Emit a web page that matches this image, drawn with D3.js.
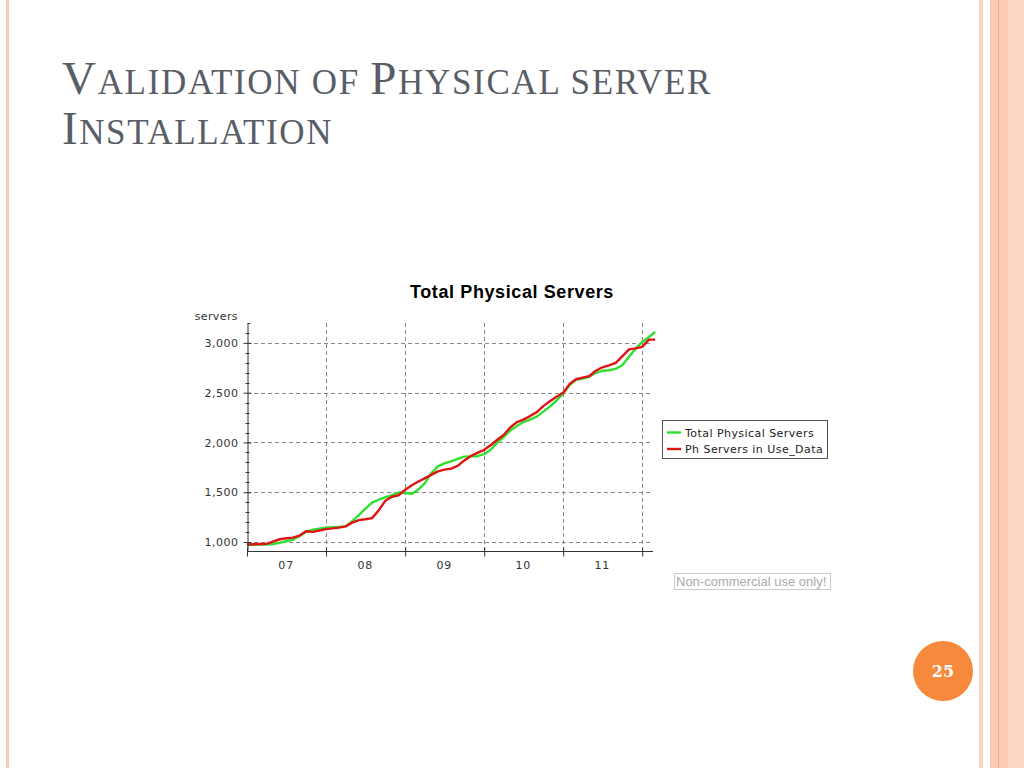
<!DOCTYPE html>
<html>
<head>
<meta charset="utf-8">
<script src="https://cdn.jsdelivr.net/npm/d3@7"></script>
<style>
  body { margin: 0; background: #fff; }
  svg { display: block; }
</style>
</head>
<body>
<svg id="slide" width="1024" height="768"></svg>
<script>
// monthly values, Jan 2007 onward
var totalServers = [
  970, 972, 974, 976, 980, 992, 1008, 1024, 1060, 1100, 1125, 1135,
  1145, 1148, 1152, 1157, 1210, 1270, 1335, 1395, 1425, 1450, 1470, 1498,
  1492, 1485, 1525, 1590, 1690, 1760, 1790, 1810, 1835, 1858, 1860, 1862,
  1882, 1930, 1995, 2055, 2120, 2165, 2205, 2230, 2260, 2310, 2360, 2420,
  2493, 2580, 2630, 2642, 2660, 2700, 2720, 2725, 2740, 2775, 2860, 2940,
  3010, 3060, 3110
];
var inUseServers = [
  975, 978, 980, 982, 1005, 1028, 1038, 1044, 1065, 1108, 1102, 1116,
  1130, 1137, 1145, 1157, 1195, 1220, 1229, 1240, 1320, 1414, 1455, 1470,
  1525, 1570, 1605, 1640, 1675, 1710, 1727, 1737, 1765, 1820, 1865, 1895,
  1926, 1975, 2025, 2075, 2150, 2205, 2230, 2265, 2305, 2365, 2415, 2460,
  2500, 2590, 2635, 2652, 2665, 2720, 2755, 2775, 2800, 2865, 2935, 2945,
  2960, 3033, 3033
];
var seriesNames = ['Total Physical Servers', 'Ph Servers in Use_Data'];
var seriesColors = ['#2fe02f', '#e01414'];
var years = [2007, 2008, 2009, 2010, 2011, 2012];
var yearLabels = ['07', '08', '09', '10', '11'];
var yTicks = [1000, 1500, 2000, 2500, 3000];

(function(){
var svg = d3.select('#slide');

// ---- slide frame ----
svg.append('rect').attr('x', 6).attr('y', 0).attr('width', 3).attr('height', 768).attr('fill', '#f9ccb6');
svg.append('rect').attr('x', 979).attr('y', 0).attr('width', 4).attr('height', 768).attr('fill', '#fbd2bf');
svg.append('rect').attr('x', 990).attr('y', 0).attr('width', 34).attr('height', 768).attr('fill', '#fbcbb5');
svg.append('rect').attr('x', 1008).attr('y', 0).attr('width', 16).attr('height', 768).attr('fill', '#fcd5c3');
svg.append('line').attr('x1', 998.5).attr('x2', 998.5).attr('y1', 0).attr('y2', 768)
  .attr('stroke', '#f3a77c').attr('stroke-width', 1);

// slide title in small caps
var titleLines = [
  {y: 94, parts: [['V', 1], ['ALIDATION OF ', 0], ['P', 1], ['HYSICAL SERVER', 0]], width: 650},
  {y: 144, parts: [['I', 1], ['NSTALLATION', 0]], width: 271}
];
titleLines.forEach(function(line){
  var t = svg.append('text')
    .attr('x', 62).attr('y', line.y)
    .attr('fill', '#585d66')
    .style('font-family', '"Liberation Serif", serif');
  line.parts.forEach(function(p){
    t.append('tspan').text(p[0]).style('font-size', p[1] ? '47px' : '35px');
  });
  var len = t.node().getComputedTextLength();
  var chars = line.parts.map(function(p){ return p[0]; }).join('').length;
  t.style('letter-spacing', ((line.width - len) / chars) + 'px');
});

// page number
svg.append('circle').attr('cx', 943).attr('cy', 671).attr('r', 30).attr('fill', '#f6893b');
svg.append('text').attr('x', 943).attr('y', 677).attr('text-anchor', 'middle')
  .attr('fill', '#fff')
  .style('font-family', '"DejaVu Serif", serif').style('font-weight', 'bold').style('font-size', '16px')
  .text('25');

// ---- chart ----
var pLeft = 247, pRight = 653, pTop = 323, pBottom = 551;
var dates = totalServers.map(function(d, i){ return new Date(2007, i, 1); });

var x = d3.scaleTime()
  .domain([new Date(2007, 0, 1), new Date(2012, 1, 20)])
  .range([pLeft, pRight]);
var y = d3.scaleLinear()
  .domain([910, 3200])
  .range([pBottom, pTop]);

var chart = svg.append('g').style('font-family', '"DejaVu Sans", sans-serif');

chart.append('text')
  .attr('x', 512).attr('y', 298).attr('text-anchor', 'middle')
  .style('font-family', '"Liberation Sans", sans-serif')
  .style('font-weight', 'bold').style('font-size', '18px')
  .style('letter-spacing', '0.6px')
  .attr('fill', '#000')
  .text('Total Physical Servers');

// grid
var yearDates = years.map(function(yr){ return new Date(yr, 0, 1); });
chart.append('g').selectAll('line')
  .data(yTicks)
  .enter().append('line')
  .attr('x1', pLeft).attr('x2', pRight)
  .attr('y1', function(d){ return Math.round(y(d)) + 0.5; })
  .attr('y2', function(d){ return Math.round(y(d)) + 0.5; })
  .attr('stroke', '#888').attr('stroke-dasharray', '4,3');
chart.append('g').selectAll('line')
  .data(yearDates.slice(1))
  .enter().append('line')
  .attr('x1', function(d){ return Math.round(x(d)) + 0.5; })
  .attr('x2', function(d){ return Math.round(x(d)) + 0.5; })
  .attr('y1', pTop).attr('y2', pBottom)
  .attr('stroke', '#888').attr('stroke-dasharray', '4,3');

// lines
var line = d3.line()
  .x(function(d){ return x(d[0]); })
  .y(function(d){ return y(d[1]); });
[totalServers, inUseServers].forEach(function(vals, i){
  chart.append('path')
    .datum(vals.map(function(v, j){ return [dates[j], v]; }))
    .attr('d', line)
    .attr('fill', 'none')
    .attr('stroke', seriesColors[i])
    .attr('stroke-width', 2.4)
    .attr('stroke-linejoin', 'round');
});

// y axis: major ticks labelled, minor every 100
var yAxis = d3.axisLeft(y).tickValues(yTicks).tickFormat(d3.format(',')).tickSizeInner(4).tickSizeOuter(0).tickPadding(5);
var gy = chart.append('g').attr('transform', 'translate(' + (pLeft + 0.5) + ',0)').call(yAxis);
gy.selectAll('.tick line').attr('x2', -4).attr('x1', 4).attr('stroke', '#333');
gy.select('.domain').attr('stroke', '#333');
gy.selectAll('text').style('font-size', '11px').style('font-family', '"DejaVu Sans", sans-serif')
  .style('letter-spacing', '0.5px').attr('fill', '#333');
gy.selectAll('.minor')
  .data(d3.range(1100, 3200, 100).filter(function(v){ return v % 500; }))
  .enter().append('line').attr('class', 'minor')
  .attr('x1', -2).attr('x2', 2)
  .attr('y1', function(d){ return Math.round(y(d)) + 0.5; })
  .attr('y2', function(d){ return Math.round(y(d)) + 0.5; })
  .attr('stroke', '#333');
gy.append('line').attr('x1', 0).attr('x2', 3).attr('y1', pTop + 0.5).attr('y2', pTop + 0.5).attr('stroke', '#333');

chart.append('text')
  .attr('x', 238).attr('y', 320).attr('text-anchor', 'end')
  .style('font-size', '11px').style('letter-spacing', '0.4px').attr('fill', '#333')
  .text('servers');

// x axis: year boundaries as ticks, labels mid-year
var xAxis = d3.axisBottom(x).tickValues(yearDates).tickFormat('').tickSizeInner(5).tickSizeOuter(0);
var gx = chart.append('g').attr('transform', 'translate(0,' + (pBottom + 0.5) + ')').call(xAxis);
gx.selectAll('.tick line').attr('y1', -4).attr('y2', 5).attr('stroke', '#333');
gx.select('.domain').attr('stroke', '#333').attr('d', 'M' + pLeft + ',0H' + pRight);
chart.append('g').selectAll('text')
  .data(yearLabels)
  .enter().append('text')
  .attr('x', function(d, i){ return x(new Date(years[i], 6, 1)); })
  .attr('y', 569)
  .attr('text-anchor', 'middle')
  .style('font-size', '11px').style('letter-spacing', '0.8px').attr('fill', '#333')
  .text(function(d){ return d; });

// legend
var legend = chart.append('g').attr('transform', 'translate(662,420)');
legend.append('rect').attr('x', 0.5).attr('y', 0.5).attr('width', 165).attr('height', 38)
  .attr('fill', '#fff').attr('stroke', '#555');
seriesNames.forEach(function(name, i){
  var ly = 12.5 + i * 16.5;
  legend.append('line').attr('x1', 5).attr('x2', 19).attr('y1', ly).attr('y2', ly)
    .attr('stroke', seriesColors[i]).attr('stroke-width', 2.4);
  legend.append('text').attr('x', 23).attr('y', ly + 4)
    .style('font-size', '11px').style('letter-spacing', '0.45px').attr('fill', '#222')
    .text(name);
});

// watermark
var wm = chart.append('g');
wm.append('rect').attr('x', 674.5).attr('y', 573.5).attr('width', 156).attr('height', 16)
  .attr('fill', 'none').attr('stroke', '#ccc');
wm.append('text').attr('x', 676).attr('y', 586)
  .style('font-family', '"Liberation Sans", sans-serif').style('font-size', '13px')
  .attr('fill', '#aaa')
  .text('Non-commercial use only!');
})();
</script>
</body>
</html>
